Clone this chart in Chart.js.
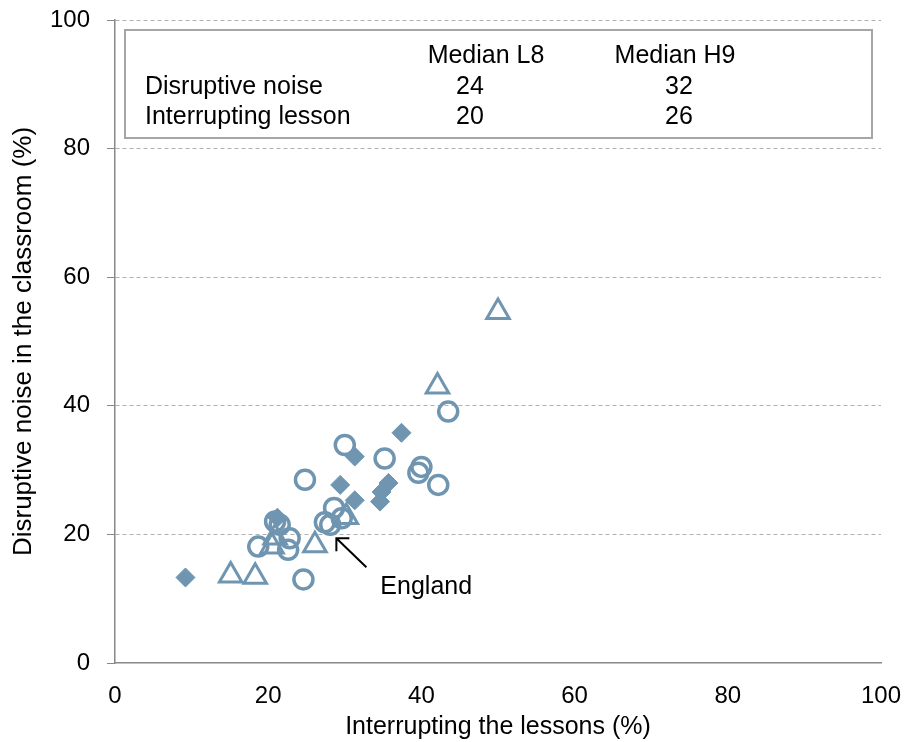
<!DOCTYPE html>
<html>
<head>
<meta charset="utf-8">
<script src="https://cdn.jsdelivr.net/npm/chart.js@4"></script>
<style>
  body { margin: 0; background: #fff; }
  #wrap { width: 904px; height: 742px; }
</style>
</head>
<body>
<div id="wrap"><canvas id="grafico"></canvas></div>
<script>
// dati
const cerchiX = [18.7, 20.9, 21.5, 22.8, 22.6, 24.6, 24.8, 27.4, 28.1, 28.6, 29.6, 30.0, 35.2, 40.0, 39.6, 42.2, 43.5];
const cerchiY = [18.1, 22.0, 21.5, 19.4, 17.6, 13.0, 28.5, 21.9, 21.5, 24.1, 22.5, 33.9, 31.8, 30.5, 29.6, 27.7, 39.1];
const rombiX = [9.2, 21.2, 29.4, 31.3, 31.3, 34.6, 34.8, 35.7, 37.4];
const rombiY = [13.3, 22.6, 27.7, 25.3, 32.1, 25.1, 26.6, 28.0, 35.8];
const triangoliX = [15.1, 18.3, 20.5, 20.9, 26.1, 30.2, 42.1, 50.0];
const triangoliY = [13.6, 13.4, 18.1, 19.5, 18.3, 22.7, 43.0, 54.6];

const tickValori = [0, 20, 40, 60, 80, 100];
const intestazioni = ['Median L8', 'Median H9'];
const righe = ['Disruptive noise', 'Interrupting lesson'];
const medianeL8 = [24, 20];
const medianeH9 = [32, 26];
const inghilterra = { x: 28.9, y: 19.4, testo: 'England' };

const colore = '#6f95b0';
const font = "'Liberation Sans', Arial, sans-serif";

function punti(xs, ys) {
    return xs.map((x, i) => ({ x: x, y: ys[i] }));
}

// riquadro con le mediane + freccia England
const annotazioni = {
    id: 'annotazioni',
    afterDraw: function (chart) {
        const ctx = chart.ctx;
        const sx = chart.scales.x, sy = chart.scales.y;
        ctx.save();
        ctx.strokeStyle = '#a6a6a6';
        ctx.lineWidth = 2;
        ctx.strokeRect(125, 30, 747, 108);

        ctx.fillStyle = '#000';
        ctx.font = '25px ' + font;
        ctx.textBaseline = 'middle';
        ctx.textAlign = 'center';
        ctx.fillText(intestazioni[0], 486, 56);
        ctx.fillText(intestazioni[1], 675, 56);
        righe.forEach(function (r, i) {
            const y = 87 + i * 30;
            ctx.textAlign = 'left';
            ctx.fillText(r, 145, y);
            ctx.textAlign = 'center';
            ctx.fillText(String(medianeL8[i]), 470, y);
            ctx.fillText(String(medianeH9[i]), 679, y);
        });

        // freccia
        const hx = sx.getPixelForValue(inghilterra.x);
        const hy = sy.getPixelForValue(inghilterra.y);
        const tx = hx + 30, ty = hy + 29;
        ctx.strokeStyle = '#000';
        ctx.lineWidth = 2;
        ctx.beginPath();
        ctx.moveTo(tx, ty);
        ctx.lineTo(hx, hy);
        ctx.moveTo(hx, hy + 13);
        ctx.lineTo(hx, hy);
        ctx.lineTo(hx + 13, hy);
        ctx.stroke();

        ctx.textAlign = 'left';
        ctx.fillText(inghilterra.testo, hx + 44, hy + 49);
        ctx.restore();
    }
};

new Chart(document.getElementById('grafico'), {
    type: 'scatter',
    data: {
        datasets: [
            {
                label: 'cerchi',
                data: punti(cerchiX, cerchiY),
                pointStyle: 'circle',
                pointRadius: 9.5,
                pointHoverRadius: 9.5,
                borderWidth: 3.5,
                borderColor: colore,
                backgroundColor: 'rgba(0,0,0,0)'
            },
            {
                label: 'rombi',
                data: punti(rombiX, rombiY),
                pointStyle: 'rectRot',
                pointRadius: 9.5,
                pointHoverRadius: 9.5,
                borderWidth: 1,
                borderColor: colore,
                backgroundColor: colore
            },
            {
                label: 'triangoli',
                data: punti(triangoliX, triangoliY),
                pointStyle: 'triangle',
                pointRadius: 13,
                pointHoverRadius: 13,
                borderWidth: 3,
                borderColor: colore,
                backgroundColor: 'rgba(0,0,0,0)'
            }
        ]
    },
    options: {
        responsive: true,
        maintainAspectRatio: false,
        animation: false,
        layout: { padding: { top: 20, right: 23, left: 0, bottom: 0 } },
        plugins: {
            legend: { display: false },
            tooltip: { enabled: false }
        },
        scales: {
            x: {
                min: 0, max: 100,
                afterBuildTicks: function (s) { s.ticks = tickValori.map(v => ({ value: v })); },
                afterFit: function (s) { s.height = 79; s.paddingLeft = 0; s.paddingRight = 0; },
                grid: { display: false, drawOnChartArea: false, tickLength: 7, color: '#888' },
                border: { color: '#888', width: 1.5 },
                ticks: { color: '#000', font: { family: font, size: 24 }, padding: 12 },
                title: { display: true, text: 'Interrupting the lessons (%)', color: '#000', font: { family: font, size: 25 }, padding: { top: 0, bottom: 0 } }
            },
            y: {
                min: 0, max: 100,
                afterBuildTicks: function (s) { s.ticks = tickValori.map(v => ({ value: v })); },
                afterFit: function (s) { s.width = 115; s.paddingTop = 0; s.paddingBottom = 0; },
                grid: {
                    color: function (c) { return c.tick && c.tick.value === 0 ? 'rgba(0,0,0,0)' : '#b0b0b0'; },
                    tickColor: '#888',
                    tickLength: 8
                },
                border: { color: '#888', width: 1.5, dash: function (c) { return c.type === 'scale' ? [] : [4, 3]; } },
                ticks: { color: '#000', font: { family: font, size: 24 }, padding: 17 },
                title: { display: true, text: 'Disruptive noise in the classroom (%)', color: '#000', font: { family: font, size: 26 }, padding: { top: 8, bottom: 0 } }
            }
        }
    },
    plugins: [annotazioni]
});
</script>
</body>
</html>
